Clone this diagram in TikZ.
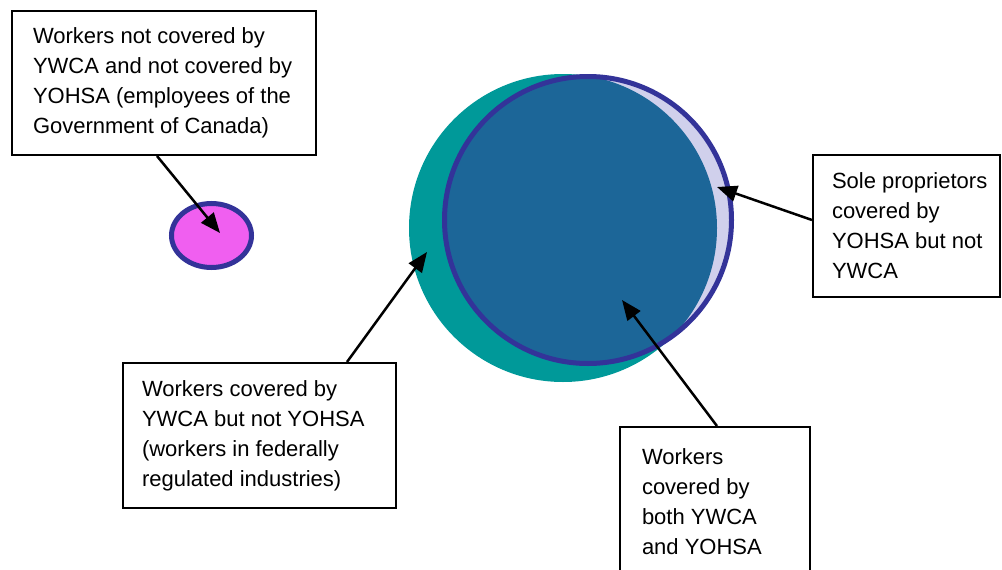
\documentclass[tikz,border=0pt]{standalone}
\usepackage{fontspec}
\setmainfont{Liberation Sans}
\usetikzlibrary{arrows.meta}
\definecolor{tealc}{RGB}{0,153,153}
\definecolor{ringc}{RGB}{51,51,153}
\definecolor{innerc}{RGB}{28,102,152}
\definecolor{cresc}{RGB}{208,208,236}
\definecolor{magc}{RGB}{240,95,240}
\newcommand\nohyph{\hyphenpenalty=10000 \exhyphenpenalty=10000 \hbadness=10000 \hfuzz=100pt\relax}
\begin{document}
\begin{tikzpicture}[x=1pt,y=-1pt,
  labelbox/.style={draw=black,line width=2pt,fill=white,anchor=north west,
    align=flush left,inner ysep=0pt,
    font=\fontsize{22}{30}\selectfont,execute at begin node=\nohyph},
  pointer/.style={line width=2.5pt,-{Triangle[length=20pt,width=16pt]}}]
\useasboundingbox (0,0) rectangle (1002,570);
% large overlapping circles
\fill[tealc] (563,228) circle (154);
\fill[cresc] (588,220) circle (143);
\begin{scope}
  \clip (588,220) circle (143);
  \fill[innerc] (563,228) circle (154);
\end{scope}
\draw[ringc,line width=5pt] (588,220) circle (143.5);
% small ellipse
\filldraw[fill=magc,draw=ringc,line width=5pt] (211.5,235.5) ellipse (40 and 32);
% arrow tips
\coordinate (t1) at (220,233);
\coordinate (t2) at (717,187);
\coordinate (t3) at (427,252);
\coordinate (t4) at (622,300);
% boxes
\node[labelbox,inner xsep=21pt,text width=262pt,minimum height=144pt] (b1) at (11,10)
  {Workers not covered by\\YWCA and not covered by\\YOHSA (employees of the\\Government of Canada)};
\node[labelbox,inner xsep=19pt,text width=149pt,minimum height=142pt] (b2) at (812,154)
  {\mbox{Sole proprietors}\\covered by\\\mbox{YOHSA but not}\\YWCA};
\node[labelbox,inner xsep=19pt,text width=235pt,minimum height=145pt] (b3) at (122,362)
  {Workers covered by\\YWCA but not YOHSA\\(workers in federally\\regulated industries)};
\node[labelbox,inner xsep=22pt,text width=146pt,minimum height=150pt] (b4) at (619,426)
  {Workers\\covered by\\both YWCA\\and YOHSA};
% connectors
\draw[pointer] ([xshift=146pt]b1.south west) -- (t1);
\draw[pointer] ([yshift=6pt]b2.west) -- (t2);
\draw[pointer] ([xshift=225pt]b3.north west) -- (t3);
\draw[pointer] ([xshift=98pt]b4.north west) -- (t4);
\end{tikzpicture}
\end{document}
